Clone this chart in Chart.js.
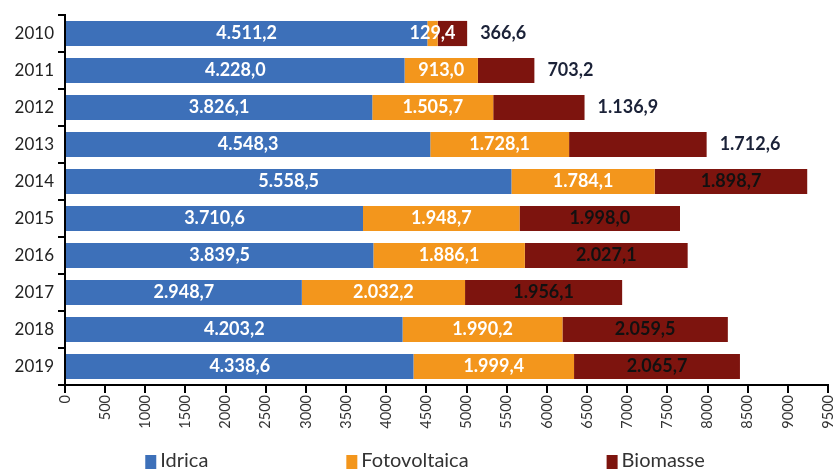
<!DOCTYPE html>
<html>
<head>
<meta charset="utf-8">
<script src="https://cdn.jsdelivr.net/npm/chart.js@4/dist/chart.umd.min.js"></script>
<style>
html,body{margin:0;padding:0;background:#fff;}
#wrap{width:837px;height:470px;position:relative;}
</style>
</head>
<body>
<div id="wrap"><canvas id="c" width="837" height="470"></canvas></div>
<script>
const years = ['2010','2011','2012','2013','2014','2015','2016','2017','2018','2019'];
const idrica = [4511.2, 4228.0, 3826.1, 4548.3, 5558.5, 3710.6, 3839.5, 2948.7, 4203.2, 4338.6];
const fotovoltaica = [129.4, 913.0, 1505.7, 1728.1, 1784.1, 1948.7, 1886.1, 2032.2, 1990.2, 1999.4];
const biomasse = [366.6, 703.2, 1136.9, 1712.6, 1898.7, 1998.0, 2027.1, 1956.1, 2059.5, 2065.7];
const seriesNames = ['Idrica', 'Fotovoltaica', 'Biomasse'];
const xMin = 0, xMax = 9500, xStep = 500;

const colors = ['#3d70b9', '#f3961c', '#7d140e'];

function fmt(v) {
  const parts = v.toFixed(1).split('.');
  return parts[0].replace(/\B(?=(\d{3})+(?!\d))/g, '.') + ',' + parts[1];
}

const FONT = 'Lato, "Open Sans", sans-serif';

const labelPlugin = {
  id: 'barLabels',
  afterDatasetsDraw(chart) {
    const ctx = chart.ctx;
    ctx.save();
    ctx.font = 'bold 18px ' + FONT;
    ctx.textBaseline = 'middle';
    chart.data.datasets.forEach((ds, di) => {
      const meta = chart.getDatasetMeta(di);
      meta.data.forEach((bar, i) => {
        const v = ds.data[i];
        const txt = fmt(v);
        const x0 = Math.min(bar.x, bar.base), x1 = Math.max(bar.x, bar.base);
        if (di === 2) {
          if (v < 1800) {
            ctx.fillStyle = '#1b2238';
            ctx.textAlign = 'left';
            ctx.fillText(txt, x1 + 13, bar.y);
          } else {
            ctx.fillStyle = '#111111';
            ctx.textAlign = 'center';
            ctx.fillText(txt, (x0 + x1) / 2, bar.y);
          }
        } else {
          ctx.fillStyle = '#ffffff';
          ctx.textAlign = 'center';
          ctx.fillText(txt, (x0 + x1) / 2, bar.y);
        }
      });
    });
    ctx.restore();
  }
};

const legendPlugin = {
  id: 'customLegend',
  afterDraw(chart) {
    const ctx = chart.ctx;
    ctx.save();
    ctx.font = '20px ' + FONT;
    ctx.textBaseline = 'middle';
    const boxW = 11, boxH = 14, boxGap = 4, itemGap = 138;
    const items = chart.data.datasets.map(d => ({label: d.label, color: d.backgroundColor, w: boxW + boxGap + ctx.measureText(d.label).width}));
    const total = items.reduce((s, it) => s + it.w, 0) + itemGap * (items.length - 1);
    let x = 425 - total / 2;
    const y = 461;
    items.forEach(it => {
      ctx.fillStyle = it.color;
      ctx.fillRect(x, y - boxH / 2 + 1, boxW, boxH);
      ctx.fillStyle = '#333333';
      ctx.textAlign = 'left';
      ctx.fillText(it.label, x + boxW + boxGap, y);
      x += it.w + itemGap;
    });
    ctx.restore();
  }
};

new Chart(document.getElementById('c'), {
  type: 'bar',
  data: {
    labels: years,
    datasets: [
      {label: seriesNames[0], data: idrica, backgroundColor: colors[0]},
      {label: seriesNames[1], data: fotovoltaica, backgroundColor: colors[1]},
      {label: seriesNames[2], data: biomasse, backgroundColor: colors[2]}
    ]
  },
  options: {
    indexAxis: 'y',
    responsive: false,
    animation: false,
    devicePixelRatio: 1,
    datasets: {bar: {categoryPercentage: 0.68, barPercentage: 1.0, borderWidth: 0}},
    layout: {padding: {left: 0, right: 1, top: 15, bottom: 0}},
    plugins: {legend: {display: false}, tooltip: {enabled: false}},
    scales: {
      x: {
        stacked: true,
        min: xMin, max: xMax,
        afterFit(axis) { axis.height = 85; axis.paddingRight = 9; axis.paddingLeft = 0; },
        border: {display: true, color: '#000', width: 2},
        grid: {display: true, drawOnChartArea: false, drawTicks: true, tickLength: 8, color: '#000', lineWidth: 2},
        ticks: {
          stepSize: xStep,
          autoSkip: false,
          minRotation: 90, maxRotation: 90,
          padding: 2,
          color: '#333',
          font: {family: FONT, size: 14.5},
          callback: (v) => String(v)
        }
      },
      y: {
        stacked: true,
        offset: true,
        afterFit(axis) { axis.width = 65; },
        border: {display: true, color: '#000', width: 2},
        grid: {display: true, offset: true, drawOnChartArea: false, drawTicks: true, tickLength: 7, color: '#000', lineWidth: 2},
        ticks: {
          padding: 4,
          color: '#222',
          font: {family: FONT, size: 17}
        }
      }
    }
  },
  plugins: [labelPlugin, legendPlugin]
});
</script>
</body>
</html>
